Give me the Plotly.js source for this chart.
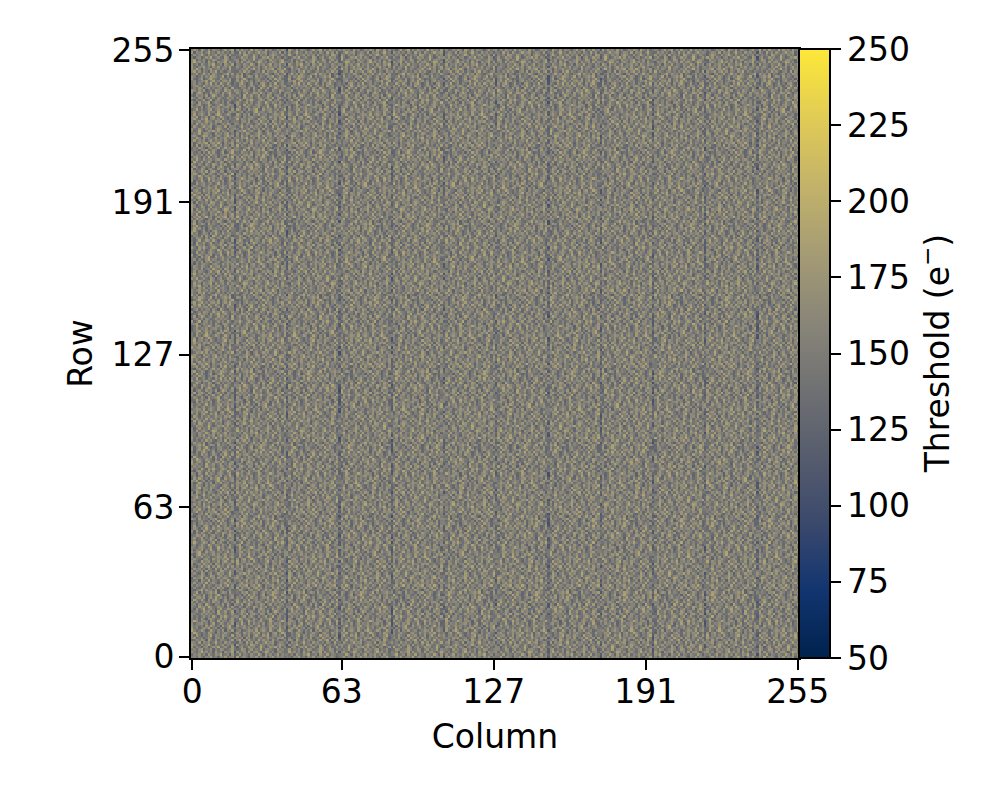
<!DOCTYPE html>
<html>
<head>
<meta charset="utf-8">
<script src="https://cdn.plot.ly/plotly-3.0.1.min.js"></script>
<style>html,body{margin:0;padding:0;background:#fff}#plot{width:997px;height:797px}</style>
</head>
<body>
<div id="plot"></div>
<script>
// Tick labels
const axisTicks = [0, 63, 127, 191, 255];
const colorbarTicks = [50, 75, 100, 125, 150, 175, 200, 225, 250];
// Columns with a darker vertical stripe, and how far below their surroundings they read
const stripeColumns = [18, 40, 62, 84, 106, 128, 150, 172, 194, 216, 238];
const stripeDrop = [-20, -22, -22, -22, -18, -16, -20, -20, -20, -20, -20];
// Estimated centre and relative spread of the noise in the reference
const noiseCentre = 152;
const noiseSpread = 0.76;
// Hand-picked offsets that keep the tiled rows from lining up
const rowOffsets = [0,13,5,22,31,9,17,26,3,35,12,28,7,19,33,1,24,15,30,10,21,4,36,16,27,8,34,2,23,11,29];
// cividis colour stops
const cividisStops = ["#00224e","#123570","#3b496c","#575d6d","#707173","#8a8678","#a59c74","#c3b369","#e1cc55","#fee838"];
// NOT a per-cell reading: the 65,536 noise cells cannot be read individually, so this
// hand-estimated patch mimics the look and value range of the noise and is tiled over the grid.
const noisePatch = [
[158,171,142,189,151,133,176,164,201,147,169,128,183,155,193,139,162,174,149,208,136,167,181,153,125,177,160,196,144,172,157,186,131,165,198,150,179],
[137,182,160,148,205,169,124,191,152,178,140,163,199,134,171,156,187,145,176,129,193,158,141,184,168,210,138,154,175,122,189,161,147,203,135,170,156],
[192,145,174,127,163,186,155,139,172,214,158,184,146,176,130,197,151,168,122,185,159,173,204,132,190,148,165,181,136,195,143,177,188,154,129,161,207],
[150,166,198,173,136,146,195,178,126,160,189,142,167,153,204,139,174,184,163,148,127,192,156,170,143,179,199,134,162,151,183,128,168,146,190,175,140],
[175,128,152,187,164,209,141,157,183,144,131,200,171,118,161,188,135,149,196,167,178,137,152,213,160,126,147,186,172,205,155,193,138,179,158,124,166],
[143,194,161,135,179,154,172,123,168,197,176,150,137,185,146,170,206,158,131,180,145,164,191,139,174,155,182,125,197,140,167,148,171,132,201,186,152],
[184,157,129,203,147,182,133,190,156,140,165,205,159,174,192,126,153,178,169,141,199,123,177,162,187,134,159,209,149,163,136,189,157,175,145,165,128],
[133,176,169,151,125,162,199,146,175,207,128,181,143,198,155,164,138,206,147,186,157,172,135,194,150,170,127,143,180,156,192,173,121,202,166,139,188],
[167,140,188,172,194,138,155,169,130,152,186,161,124,172,178,143,191,126,160,175,138,204,165,148,183,119,196,168,134,177,146,159,184,141,153,197,162],
[199,153,126,159,146,177,212,135,183,164,144,191,168,150,133,205,158,171,185,130,162,149,189,127,172,201,152,138,191,161,208,130,166,178,144,173,136],
[148,183,167,207,131,163,150,187,122,173,196,137,156,210,180,147,129,165,141,194,174,156,120,177,142,166,185,157,145,123,174,188,151,134,192,157,181],
[165,130,174,143,189,119,172,158,197,142,160,175,129,146,163,188,176,152,203,135,168,190,160,136,199,154,131,178,212,170,139,155,197,170,126,149,204],
[178,160,140,196,155,168,137,205,148,179,127,154,190,166,201,134,157,183,124,170,145,133,178,211,150,175,163,141,159,187,148,180,132,162,186,142,158],
[127,195,153,169,181,142,160,176,135,156,208,143,171,132,152,182,198,139,164,187,156,173,144,165,128,192,147,201,173,136,164,122,194,152,177,211,135],
[186,147,171,123,158,200,128,149,191,167,138,177,161,195,124,169,145,207,150,127,196,140,184,155,170,137,186,122,154,190,143,172,159,183,139,163,174],
[154,167,209,176,137,174,184,163,118,186,153,128,202,147,175,160,133,172,188,159,136,167,199,129,146,210,158,175,139,166,197,151,128,145,203,170,131],
[141,179,131,150,192,156,143,212,170,145,180,165,139,187,155,122,193,148,161,176,204,124,152,181,163,142,172,133,186,149,120,177,189,160,137,155,193],
[196,125,162,185,148,126,179,138,160,198,133,157,214,125,168,179,141,166,135,153,183,147,170,138,201,157,126,192,164,208,156,140,168,199,174,126,162],
[159,173,145,134,203,167,152,175,129,149,188,172,142,163,190,151,204,127,178,194,161,132,186,175,116,168,183,146,176,125,181,164,135,147,188,154,177],
[132,188,158,175,141,193,120,161,206,177,137,156,183,135,146,199,162,184,143,169,118,209,149,158,190,137,154,200,130,161,143,196,173,121,165,182,144],
[181,149,201,160,128,164,186,144,154,131,192,123,168,204,173,128,150,137,197,152,175,165,127,193,145,172,208,141,169,188,153,129,160,205,139,150,197],
[146,169,136,194,172,151,135,198,167,182,146,210,176,152,138,186,170,158,126,181,142,191,163,134,178,150,127,185,157,138,200,174,146,184,157,191,125],
[172,129,183,155,119,207,163,142,126,174,162,139,190,128,195,144,116,209,166,147,199,130,155,202,160,124,167,143,193,172,119,159,189,134,170,142,165],
[139,193,152,168,180,145,176,189,158,136,201,165,149,181,159,172,183,143,190,136,160,178,144,169,133,196,159,176,127,149,186,167,130,176,151,208,154],
[205,156,124,147,190,133,157,122,181,195,151,127,173,144,211,133,155,177,129,171,151,126,187,153,212,141,181,135,204,163,146,195,157,123,183,136,180],
[151,177,166,199,138,171,202,148,169,140,178,186,157,196,125,164,192,148,203,158,184,140,173,121,165,188,148,170,155,182,131,169,142,198,161,173,128],
[163,134,190,128,161,184,140,166,210,153,124,145,134,170,177,147,137,167,121,175,137,206,157,192,144,127,161,198,118,145,177,209,164,149,135,188,159],
[188,170,143,157,206,125,179,132,159,172,193,163,205,121,154,189,174,125,195,146,168,154,131,179,173,200,136,152,187,167,124,150,182,137,175,155,202],
[124,155,178,136,165,149,194,175,143,117,168,182,141,160,198,136,158,202,152,182,127,189,166,143,129,156,175,207,140,192,158,172,139,193,120,168,146],
[176,200,147,183,131,173,154,128,188,161,207,135,176,148,131,167,180,141,162,134,176,147,198,160,184,139,122,164,179,133,203,126,185,154,167,196,138],
[157,138,172,161,197,142,167,214,146,179,130,155,187,164,183,206,123,173,187,156,212,164,120,177,152,169,193,147,160,174,143,180,161,128,204,143,171]
];

const cellIndex = Array.from({length: 256}, (_, i) => i);
const stripeAt = new Map(stripeColumns.map((c, i) => [c, stripeDrop[i]]));
const z = cellIndex.map(r => {
  const n = noisePatch.length;
  const row = noisePatch[r % n];
  const shift = rowOffsets[r % n] + rowOffsets[Math.floor(r / n) % n];
  return cellIndex.map(c =>
    noiseCentre + noiseSpread * (row[(c + shift) % row.length] - 160) + (stripeAt.get(c) || 0));
});

const colorscale = cividisStops.map((col, i) => [i / (cividisStops.length - 1), col]);
const FONT = "DejaVu Sans, sans-serif";
const TICK = 33;

const trace = {
  type: "heatmap",
  x: cellIndex, y: cellIndex, z: z,
  zmin: 50, zmax: 250, zsmooth: false,
  colorscale: colorscale,
  hoverinfo: "skip",
  colorbar: {
    thickness: 31, thicknessmode: "pixels",
    len: 1, lenmode: "fraction",
    x: 1, xanchor: "left", xpad: 0,
    y: 0, yanchor: "bottom", ypad: 0,
    tickmode: "array", tickvals: colorbarTicks, ticktext: colorbarTicks.map(String),
    ticks: "outside", ticklen: 10, tickwidth: 2, tickcolor: "#000",
    tickfont: {family: FONT, size: TICK, color: "#000"},
    outlinewidth: 2, outlinecolor: "#000", borderwidth: 0
  }
};

const axisCommon = {
  range: [-0.5, 255.5],
  tickmode: "array", tickvals: axisTicks, ticktext: axisTicks.map(String),
  ticks: "outside", ticklen: 10, tickwidth: 2, tickcolor: "#000",
  tickfont: {family: FONT, size: TICK, color: "#000"},
  showline: true, linewidth: 2, linecolor: "#000", mirror: true,
  showgrid: false, zeroline: false
};

const layout = {
  width: 997, height: 797,
  margin: {l: 191, r: 198, t: 49, b: 139, pad: 0},
  paper_bgcolor: "#fff", plot_bgcolor: "#fff",
  showlegend: false,
  xaxis: Object.assign({}, axisCommon, {ticklabelstandoff: -7, title: {text: "Column", font: {family: FONT, size: TICK, color: "#000"}, standoff: 15}}),
  yaxis: Object.assign({}, axisCommon, {ticklabelstandoff: -2, title: {text: "Row", font: {family: FONT, size: TICK, color: "#000"}, standoff: 9}}),
  annotations: [{
    xref: "paper", yref: "paper", x: 1.225, y: 0.5, xanchor: "center", yanchor: "middle",
    text: "Threshold (e<sup>−</sup>)", textangle: -90, showarrow: false,
    font: {family: FONT, size: TICK, color: "#000"}
  }]
};

Plotly.newPlot("plot", [trace], layout, {displayModeBar: false, staticPlot: true});
</script>
</body>
</html>
